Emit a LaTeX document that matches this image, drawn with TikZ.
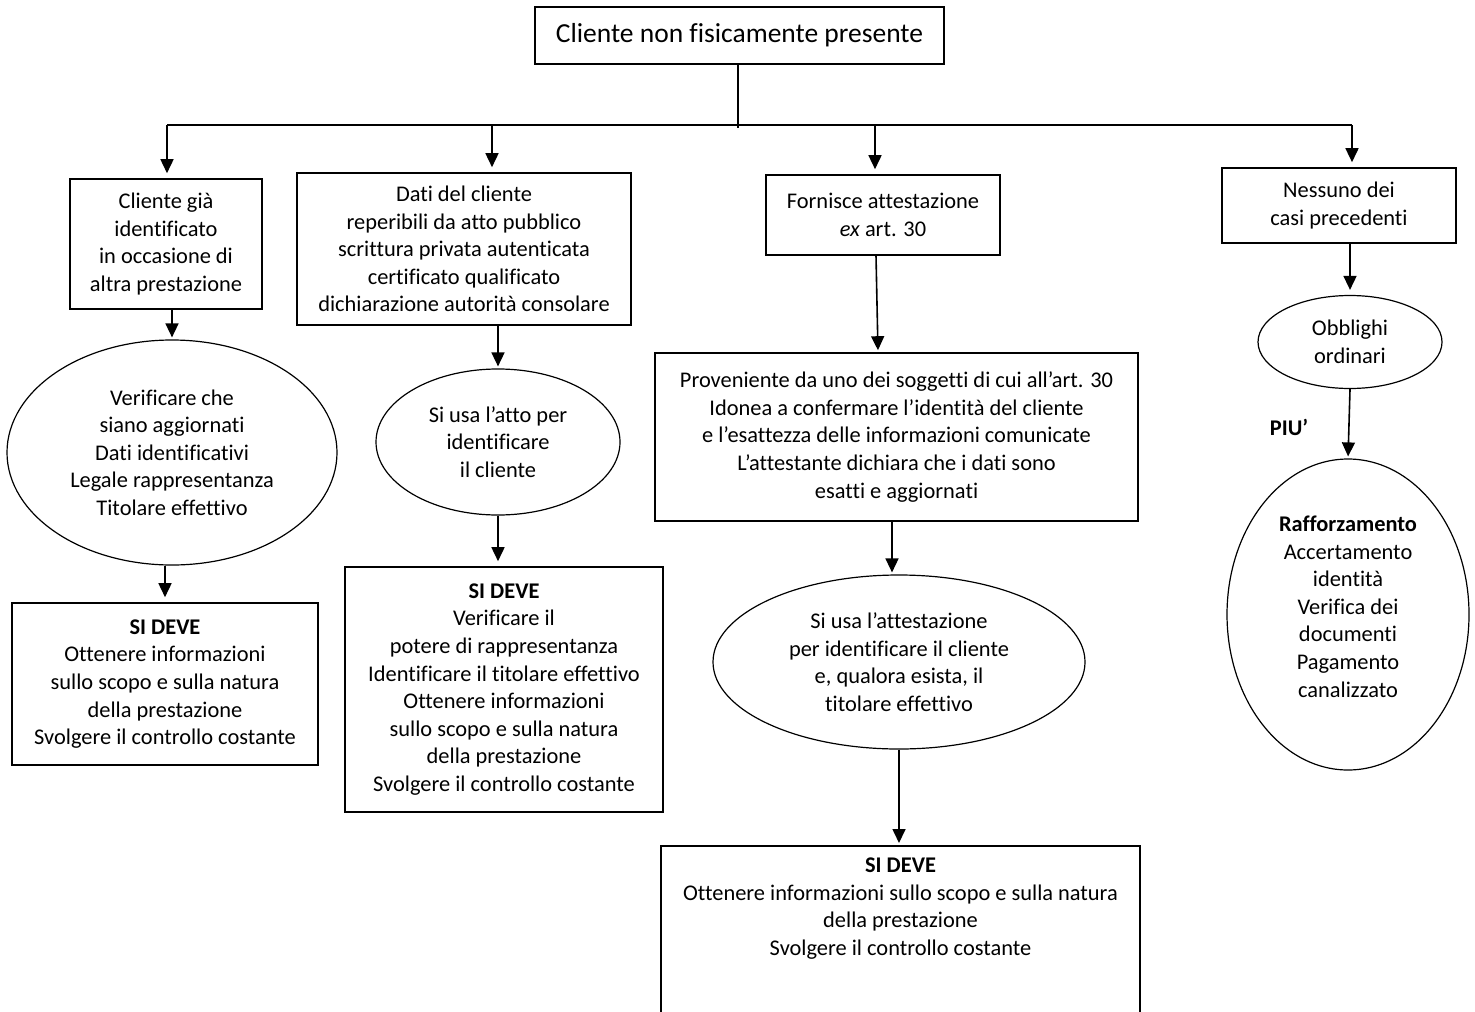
\documentclass[tikz,border=0pt]{standalone}
\usepackage{fontspec}
\setmainfont{Carlito}[Ligatures={NoCommon,NoContextual,TeX},Contextuals=NoAlternate]
\usetikzlibrary{arrows.meta,shapes.geometric}
\begin{document}
\begin{tikzpicture}[x=0.5pt,y=-0.5pt]
\tikzset{
  every node/.style={font=\fontsize{11.2}{13.8}\selectfont, align=center, inner sep=0pt},
  bx/.style={draw, rectangle, line width=0.8pt},
  el/.style={draw, ellipse, line width=0.6pt},
  arr/.style={line width=0.8pt, -{Triangle[width=6.5pt,length=7pt]}, shorten >=1pt},
  busarr/.style={arr, shorten >=2.5pt},
  ln/.style={line width=0.8pt}
}
\useasboundingbox (0,0) rectangle (1475,1011);
\fill[white] (0,0) rectangle (1475,1011);
\clip (0,0) rectangle (1475,1011);

% top
\node[bx, minimum width=204.5pt, minimum height=28.5pt, font=\fontsize{13.75}{16.5}\selectfont] (top) at (739.5,35.5) {Cliente non fisicamente presente};

% first row
\node[bx, minimum width=96pt, minimum height=65pt] (A) at (166,244)
  {Cliente già\\identificato\\in occasione di\\altra prestazione};
\node[bx, minimum width=167pt, minimum height=76pt] (B) at (464,249)
  {Dati del cliente\\reperibili da atto pubblico\\scrittura privata autenticata\\certificato qualificato\\dichiarazione autorità consolare};
\node[bx, minimum width=117pt, minimum height=40pt] (C) at (883,215)
  {Fornisce attestazione\\\textit{ex} art. 30};
\node[bx, minimum width=117pt, minimum height=37.5pt] (D) at (1339,205.5)
  {Nessuno dei\\casi precedenti};

% column A
\node[el, minimum width=165pt, minimum height=112.5pt] (ellA) at (172,452.5)
  {Verificare che\\siano aggiornati\\Dati identificativi\\Legale rappresentanza\\Titolare effettivo};
\node[bx, minimum width=153pt, minimum height=81pt] (E) at (165,684)
  {\textbf{SI DEVE}\\Ottenere informazioni\\sullo scopo e sulla natura\\della prestazione\\Svolgere il controllo costante};

% column B
\node[el, minimum width=122pt, minimum height=73pt] (ellB) at (498,442)
  {Si usa l’atto per\\identificare\\il cliente};
\node[bx, minimum width=159pt, minimum height=122.5pt] (F) at (504,689.5)
  {\textbf{SI DEVE}\\Verificare il\\potere di rappresentanza\\Identificare il titolare effettivo\\Ottenere informazioni\\sullo scopo e sulla natura\\della prestazione\\Svolgere il controllo costante};

% column C
\node[bx, minimum width=241.5pt, minimum height=84pt] (G) at (896.5,437)
  {Proveniente da uno dei soggetti di cui all’art. 30\\Idonea a confermare l’identità del cliente\\e l’esattezza delle informazioni comunicate\\L’attestante dichiara che i dati sono\\esatti e aggiornati};
\node[el, minimum width=186pt, minimum height=87pt] (ellH) at (899,662)
  {Si usa l’attestazione\\per identificare il cliente\\e, qualora esista, il\\titolare effettivo};
\node[bx, minimum width=239.5pt, inner ysep=6pt, anchor=north] (I) at (900.5,845)
  {\textbf{SI DEVE}\\Ottenere informazioni sullo scopo e sulla natura\\della prestazione\\Svolgere il controllo costante\\\strut\\\strut};

% column D
\node[el, minimum width=92pt, minimum height=46.5pt] (Obb) at (1350,342)
  {Obblighi\\ordinari};
\node[el, minimum width=121pt, minimum height=155.5pt, text depth=8pt] (Raff) at (1348,614.5)
  {\textbf{Rafforzamento}\\Accertamento\\identità\\Verifica dei\\documenti\\Pagamento\\canalizzato};
\node (piu) at (1289,427) {\textbf{PIU’}};

% bus
\coordinate (j) at (738,128);
\coordinate (cA) at (167,125);
\coordinate (cB) at (492,125);
\coordinate (cC) at (875,125);
\coordinate (cD) at (1352,125);
\draw[ln] (top.south -| j) -- (j);
\draw[ln] (cA) -- (cD);
\draw[busarr] (cA) -- (cA |- A.north);
\draw[busarr] (cB) -- (cB |- B.north);
\draw[busarr] (cC) -- (cC |- C.north);
\draw[busarr] (cD) -- (cD |- D.north);

% column connectors
\draw[arr] (A.south -| ellA.north) -- (ellA.north);
\draw[busarr] (ellA.south -| E.north) -- (E.north);
\draw[arr] (B.south -| ellB.north) -- (ellB.north);
\draw[busarr] (ellB.south) -- (ellB.south |- F.north);
\draw[arr] ([xshift=-3.5pt]C.south) -- ([xshift=-9.25pt]G.north);
\draw[arr] ([xshift=-2.25pt]G.south) -- ([xshift=-2.25pt]G.south |- ellH.north);
\draw[arr] (ellH.south) -- (ellH.south |- I.north);
\draw[busarr] (D.south -| Obb.north) -- (Obb.north);
\draw[arr] (Obb.south) -- (Raff.north);
\end{tikzpicture}
\end{document}
